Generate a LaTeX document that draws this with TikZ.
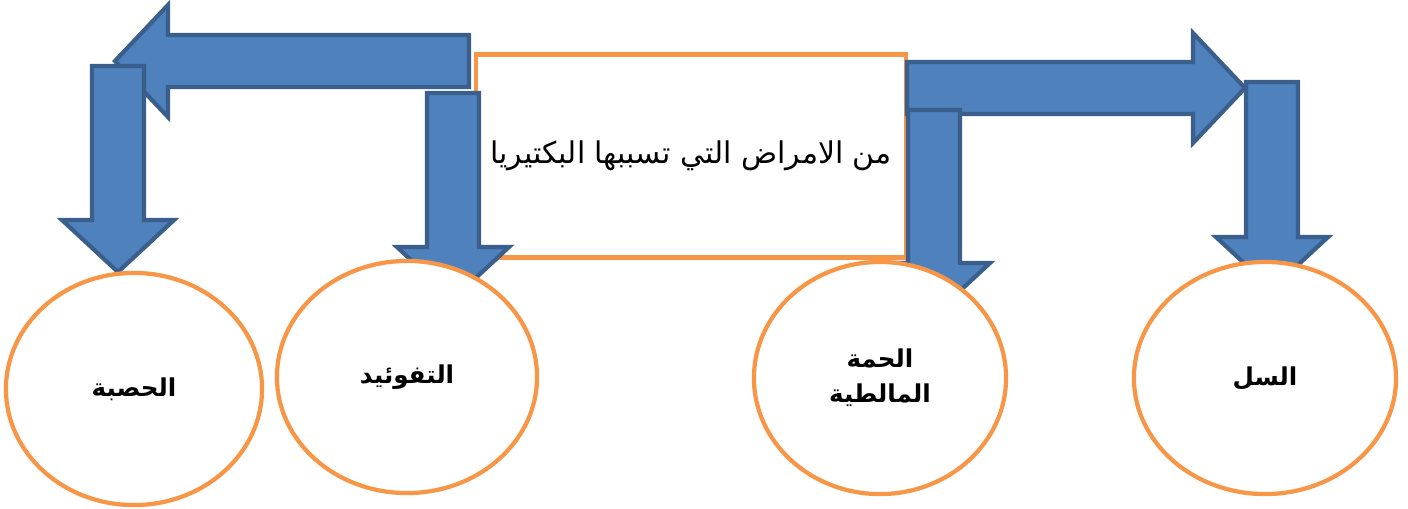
\documentclass[tikz,border=0pt]{standalone}
\usepackage{fontspec}
\newfontfamily\arabicfont[Script=Arabic]{DejaVu Sans}
\TeXXeTstate=1
\usetikzlibrary{shapes.geometric}
\definecolor{arrowfill}{HTML}{4F81BD}
\definecolor{arrowline}{HTML}{3A5F8C}
\definecolor{ringorange}{HTML}{F79646}

\begin{document}
\begin{tikzpicture}
		[
			x = 0.01cm, y = -0.01cm,
			box/.style = {rectangle, draw = ringorange, line width = 1.2pt, fill = white, minimum width = 4.3cm, minimum height = 2.03cm, inner sep = 0cm, font = \arabicfont\fontsize{8.5}{11}\selectfont},
			disease/.style = {ellipse, draw = ringorange, line width = 1.2pt, fill = white, minimum height = 2.32cm, inner sep = 0cm, align = center, font = \arabicfont\bfseries\fontsize{7}{10}\selectfont},
			blockarrow/.style = {fill = arrowfill, draw = arrowline, line width = 1.2pt, line join = miter},
		]
			\useasboundingbox (0,0) rectangle (1408,508);
			%
			\node (box) [box] at (691,156) {\beginR من الامراض التي تسببها البكتيريا\endR};
			%
			% arrows to the left
			\draw [blockarrow] (469,35) -- (168,35) -- (168,5) -- (115,61) -- (168,117) -- (168,87) -- (469,87) -- cycle;
			\draw [blockarrow] (92,66) -- (92,220) -- (62,220) -- (118,272) -- (174,220) -- (144,220) -- (144,66) -- cycle;
			\draw [blockarrow] (427,93) -- (427,247) -- (397,247) -- (453,299) -- (509,247) -- (479,247) -- (479,93) -- cycle;
			%
			% arrows to the right
			\draw [blockarrow] (907,62) -- (1193,62) -- (1193,33) -- (1245,88) -- (1193,143) -- (1193,114) -- (907,114) -- cycle;
			\draw [blockarrow] (908,110) -- (908,263) -- (878,263) -- (934,315) -- (990,263) -- (960,263) -- (960,110) -- cycle;
			\draw [blockarrow] (1246,82) -- (1246,237) -- (1216,237) -- (1272,289) -- (1328,237) -- (1298,237) -- (1298,82) -- cycle;
			%
			\node (measles) [disease, minimum width = 2.56cm] at (134,389) {\beginR الحصبة\endR};
			\node (typhoid) [disease, minimum width = 2.60cm] at (407,377) {\beginR التفوئيد\endR};
			\node (malta) [disease, minimum width = 2.52cm] at (880,378) {\beginR الحمة\endR\\\beginR المالطية\endR};
			\node (tb) [disease, minimum width = 2.62cm] at (1265,378) {\beginR السل\endR};
			%
		\end{tikzpicture}
\end{document}
